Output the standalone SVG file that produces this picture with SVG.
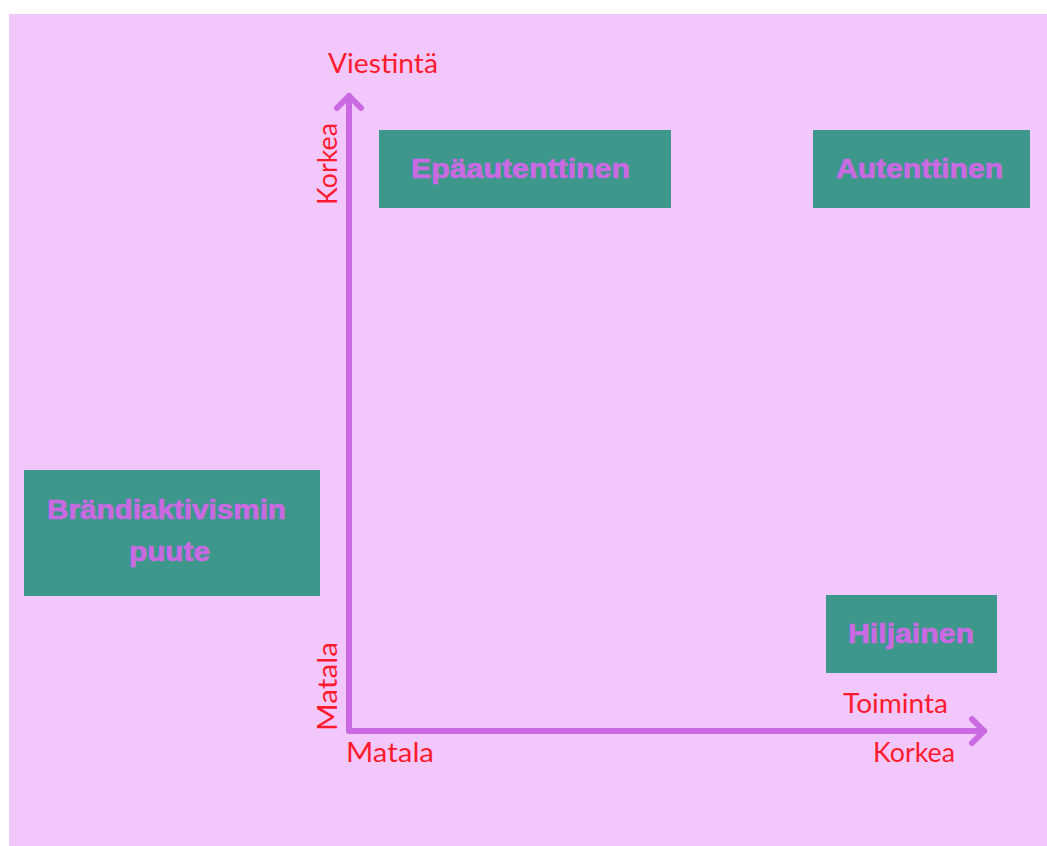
<svg xmlns="http://www.w3.org/2000/svg" width="1047" height="846" viewBox="0 0 1047 846">
  <style>
    .box { fill: #3D978B; }
    .bl { font-family: "Liberation Sans", Arial, sans-serif; font-weight: bold; font-size: 28px; fill: #C96AE2; stroke: #C96AE2; stroke-width: 0.7; }
    .ax { font-family: "Lato", "Liberation Sans", sans-serif; font-size: 27px; fill: #FF1A2E; }
    .axis { stroke: #C96AE2; stroke-width: 6; fill: none; stroke-linecap: round; stroke-linejoin: round; }
  </style>
  <rect x="0" y="0" width="1047" height="846" fill="#FFFFFF"/>
  <rect x="9" y="14" width="1038" height="832" fill="#F2C7FC"/>

  <g id="connectors">
    <polyline class="axis" points="349,96 349,731 984,731"/>
    <polyline class="axis" points="337,108 349,96 361,108"/>
    <polyline class="axis" points="972,719 984,731 972,743"/>
  </g>

  <g id="axis-labels">
    <text class="ax" x="328" y="73" textLength="110" lengthAdjust="spacingAndGlyphs">Viestintä</text>
    <text class="ax" transform="translate(337,205) rotate(-90)" x="0" y="0" textLength="82" lengthAdjust="spacingAndGlyphs">Korkea</text>
    <text class="ax" transform="translate(337,731) rotate(-90)" x="0" y="0" textLength="89" lengthAdjust="spacingAndGlyphs">Matala</text>
    <text class="ax" x="346" y="762" textLength="88" lengthAdjust="spacingAndGlyphs">Matala</text>
    <text class="ax" x="843" y="713" textLength="105" lengthAdjust="spacingAndGlyphs">Toiminta</text>
    <text class="ax" x="873" y="762" textLength="82" lengthAdjust="spacingAndGlyphs">Korkea</text>
  </g>

  <g id="node-epaautenttinen">
    <rect class="box" x="379" y="130" width="292" height="78"/>
    <text class="bl" x="411" y="178" textLength="219" lengthAdjust="spacingAndGlyphs">Epäautenttinen</text>
  </g>

  <g id="node-autenttinen">
    <rect class="box" x="813" y="130" width="217" height="78"/>
    <text class="bl" x="836" y="178" textLength="167" lengthAdjust="spacingAndGlyphs">Autenttinen</text>
  </g>

  <g id="node-brandiaktivismin-puute">
    <rect class="box" x="24" y="470" width="296" height="126"/>
    <text class="bl" x="47" y="519" textLength="239" lengthAdjust="spacingAndGlyphs">Brändiaktivismin</text>
    <text class="bl" x="129" y="561" textLength="81" lengthAdjust="spacingAndGlyphs">puute</text>
  </g>

  <g id="node-hiljainen">
    <rect class="box" x="826" y="595" width="171" height="78"/>
    <text class="bl" x="848" y="643" textLength="126" lengthAdjust="spacingAndGlyphs">Hiljainen</text>
  </g>
</svg>
